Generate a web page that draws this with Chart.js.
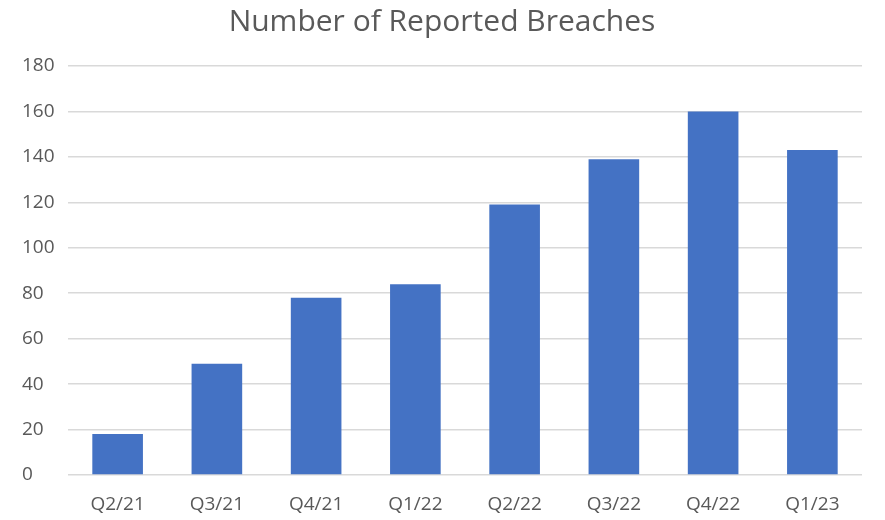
<!DOCTYPE html>
<html>
<head>
<meta charset="utf-8">
<script src="https://cdn.jsdelivr.net/npm/chart.js@4/dist/chart.umd.min.js"></script>
<style>
html,body{margin:0;padding:0;background:#fff;}
#wrap{width:885px;height:520px;}
</style>
</head>
<body>
<div id="wrap"><canvas id="c" width="885" height="520"></canvas></div>
<script>
const categories = ["Q2/21","Q3/21","Q4/21","Q1/22","Q2/22","Q3/22","Q4/22","Q1/23"];
const breaches = [18, 49, 78, 84, 119, 139, 160, 143];
const titleText = "Number of Reported Breaches";

new Chart(document.getElementById('c'), {
  type: 'bar',
  data: {
    labels: categories,
    datasets: [{
      label: 'Breaches',
      data: breaches,
      backgroundColor: '#4472C4',
      borderWidth: 0,
      categoryPercentage: 1.0,
      barPercentage: 0.51
    }]
  },
  options: {
    responsive: false,
    animation: false,
    devicePixelRatio: 1,
    layout: { padding: { left: 22, right: 23, top: 4, bottom: 5 } },
    plugins: {
      legend: { display: false },
      tooltip: { enabled: false },
      title: {
        display: true,
        text: titleText,
        color: '#595959',
        font: { family: 'Open Sans', size: 30, weight: 'normal', lineHeight: 1.2 },
        padding: { top: 0, bottom: 26 }
      }
    },
    scales: {
      x: {
        grid: { display: false, drawTicks: false },
        border: { display: false },
        ticks: { color: '#595959', font: { family: 'Open Sans', size: 19 }, padding: 18, maxRotation: 0, autoSkip: false },
        afterFit: (s) => { s.height = 40; }
      },
      y: {
        min: 0, max: 180,
        ticks: { stepSize: 20, color: '#595959', font: { family: 'Open Sans', size: 19 }, padding: 13, crossAlign: 'far' },
        grid: { color: '#d9d9d9', lineWidth: 1.5, drawTicks: false },
        border: { display: false },
        afterFit: (s) => { s.width = 46; }
      }
    }
  }
});
</script>
</body>
</html>
